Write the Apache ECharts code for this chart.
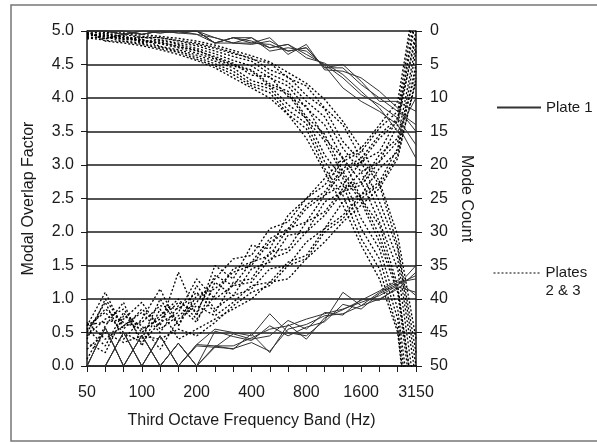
<!DOCTYPE html>
<html>
<head>
<meta charset="utf-8">
<script src="https://cdn.jsdelivr.net/npm/echarts@6/dist/echarts.min.js"></script>
<style>
  html, body { margin: 0; padding: 0; background: #fff; }
  #chart { width: 597px; height: 443px; }
</style>
</head>
<body>
<div id="chart"></div>
<script>
// third octave band centres (Hz)
var bands = ['50', '63', '80', '100', '125', '160', '200', '250', '315', '400',
  '500', '630', '800', '1000', '1250', '1600', '2000', '2500', '3150'];

// Plate 1 - modal overlap factor (left axis)
var p1OverlapA = [0, 0.57, 0, 0.46, 0, 0.34, 0, 0.30, 0.30, 0.42, 0.55, 0.60, 0.70, 0.78, 0.85, 0.95, 1.05, 1.20, 1.50];
var p1OverlapB = [0, 0, 0.50, 0, 0.45, 0, 0.32, 0.55, 0.50, 0.45, 0.78, 0.50, 0.45, 0.68, 1.10, 0.90, 1.00, 1.15, 1.40];
var p1OverlapC = [0, 0.57, 0, 0.46, 0, 0.34, 0, 0.28, 0.26, 0.35, 0.22, 0.55, 0.62, 0.75, 0.78, 0.90, 1.10, 1.25, 1.30];
var p1OverlapD = [0, 0, 0.50, 0, 0.45, 0, 0.30, 0.28, 0.48, 0.40, 0.45, 0.68, 0.55, 0.80, 0.76, 1.00, 0.98, 1.18, 1.10];
var p1OverlapE = [0, 0.57, 0, 0.46, 0, 0.34, 0, 0.52, 0.44, 0.38, 0.60, 0.45, 0.58, 0.66, 0.92, 0.85, 1.08, 1.22, 1.35];
var p1OverlapF = [0, 0, 0.50, 0, 0.45, 0, 0.32, 0.30, 0.25, 0.48, 0.20, 0.62, 0.40, 0.72, 0.84, 0.98, 1.12, 1.28, 1.05];

// Plate 1 - mode count (right axis, inverted)
var p1CountA = [0, 0, 0.5, 0, 0, 0, 0, 1.8, 1.0, 1.8, 2.0, 3.0, 2.5, 5.5, 5.5, 8.0, 10.0, 12.0, 14.0];
var p1CountB = [0, 0, 0, 0.5, 0, 0.3, 0, 1.8, 1.8, 1.0, 2.5, 2.0, 3.5, 5.0, 7.0, 9.5, 11.0, 13.0, 17.0];
var p1CountC = [0, 0, 0.5, 0, 0.3, 0, 0.5, 1.0, 1.8, 1.8, 1.0, 3.5, 2.0, 5.8, 6.0, 7.0, 9.0, 11.5, 15.0];
var p1CountD = [0, 0, 0, 0.5, 0, 0, 0, 1.8, 1.0, 1.0, 3.0, 2.5, 3.0, 5.2, 8.5, 10.5, 12.0, 14.0, 19.0];
var p1CountE = [0, 0, 0.5, 0, 0.3, 0, 0, 1.0, 1.8, 2.0, 1.5, 3.0, 2.5, 5.5, 5.0, 7.5, 10.5, 10.5, 12.0];
var p1CountF = [0, 0, 0, 0.5, 0, 0.3, 0.5, 1.8, 1.0, 1.5, 2.5, 2.0, 4.0, 4.8, 6.5, 9.0, 11.5, 15.0, 10.0];

// Plates 2 & 3 - modal overlap factor (left axis)
var p23Overlap1 = [0.60, 1.10, 0.55, 0.85, 0.60, 1.40, 0.75, 1.50, 1.30, 1.80, 1.75, 2.25, 2.50, 2.80, 3.10, 3.25, 3.60, 3.95, 5.60];
var p23Overlap2 = [0.10, 0.60, 0.95, 0.30, 0.85, 0.40, 0.55, 0.70, 0.85, 1.00, 1.25, 1.30, 1.60, 1.85, 2.15, 2.40, 2.65, 3.10, 4.30];
var p23Overlap3 = [0.65, 0.40, 0.60, 0.80, 0.50, 0.90, 0.65, 1.25, 1.05, 1.45, 1.55, 1.95, 2.00, 2.45, 2.60, 2.90, 3.05, 3.60, 5.00];
var p23Overlap4 = [0.50, 0.95, 0.40, 0.70, 1.15, 0.60, 1.20, 0.85, 1.05, 1.15, 1.45, 1.50, 1.85, 2.05, 2.45, 2.55, 2.95, 3.20, 4.50];
var p23Overlap5 = [0.45, 0.70, 0.85, 0.50, 0.75, 1.00, 0.70, 1.05, 1.45, 1.55, 1.90, 2.05, 2.40, 2.60, 2.95, 3.10, 3.45, 3.70, 5.30];
var p23Overlap6 = [0.60, 0.80, 0.50, 0.35, 0.65, 0.80, 1.30, 1.00, 1.20, 1.25, 1.60, 1.70, 2.00, 2.25, 2.60, 2.70, 3.05, 3.35, 4.40];
var p23Overlap7 = [0.35, 0.20, 0.75, 0.60, 0.25, 0.70, 0.90, 0.75, 0.95, 1.20, 1.25, 1.55, 1.65, 2.05, 2.25, 2.55, 2.75, 3.25, 4.70];
var p23Overlap8 = [0.55, 0.85, 0.65, 0.55, 0.70, 0.95, 0.80, 1.35, 1.20, 1.55, 1.65, 2.05, 2.15, 2.55, 2.70, 3.05, 3.20, 3.70, 4.90];
var p23Overlap9 = [0.62, 0.65, 0.70, 0.95, 0.55, 0.75, 0.95, 1.30, 1.60, 1.65, 2.05, 2.15, 2.50, 2.70, 3.05, 3.20, 3.55, 3.80, 5.50];
var p23Overlap10 = [0.40, 1.00, 0.60, 0.65, 0.90, 0.85, 1.10, 0.80, 1.25, 1.30, 1.70, 1.75, 2.15, 2.30, 2.65, 2.75, 3.15, 3.40, 4.80];
var p23Overlap11 = [0.25, 0.50, 0.35, 0.45, 0.40, 0.55, 0.45, 0.65, 0.90, 1.10, 1.20, 1.50, 1.60, 2.00, 2.20, 2.50, 2.70, 3.15, 4.25];
var p23Overlap12 = [0.55, 0.30, 0.80, 0.40, 1.00, 0.60, 1.05, 1.15, 1.40, 1.50, 1.85, 2.00, 2.35, 2.55, 2.90, 3.05, 3.40, 3.65, 5.20];

// Plates 2 & 3 - mode count (right axis, inverted)
var p23Count1 = [0.0, 0.5, 0.4, 0.8, 1.0, 1.4, 1.8, 2.4, 3.2, 4.2, 4.8, 7.0, 8.2, 11.5, 14.0, 19.0, 23.0, 32.0, 48];
var p23Count2 = [1.0, 1.4, 1.6, 2.0, 2.6, 3.2, 4.2, 5.2, 6.5, 8.2, 9.2, 12.4, 14.6, 20.5, 24.5, 31.0, 35.5, 44.5, 68];
var p23Count3 = [0.5, 0.9, 1.2, 1.3, 1.8, 2.2, 3.0, 3.8, 4.8, 6.6, 6.8, 9.8, 11.2, 16.0, 19.0, 25.0, 29.0, 38.0, 58];
var p23Count4 = [0.3, 0.7, 0.7, 1.6, 1.3, 1.8, 2.2, 3.0, 3.8, 4.5, 6.4, 7.6, 10.5, 12.8, 17.5, 21.0, 27.0, 34.0, 52];
var p23Count5 = [0.8, 0.3, 1.0, 1.2, 2.3, 2.8, 3.6, 4.5, 5.5, 7.4, 8.2, 11.0, 13.0, 18.5, 22.0, 28.0, 32.5, 41.5, 63];
var p23Count6 = [0.2, 1.2, 0.5, 1.0, 1.0, 1.5, 2.0, 2.6, 3.4, 4.0, 5.8, 6.8, 9.6, 11.6, 16.5, 19.5, 25.5, 32.5, 50];
var p23Count7 = [0.6, 0.6, 1.3, 1.4, 1.9, 2.5, 3.3, 4.2, 5.2, 6.0, 8.2, 9.4, 13.2, 16.4, 21.5, 25.5, 31.5, 39.0, 60];
var p23Count8 = [0.4, 0.9, 1.5, 1.8, 2.4, 3.0, 3.9, 4.9, 6.0, 7.9, 8.6, 11.8, 13.8, 19.5, 23.0, 29.5, 34.0, 43.0, 66];
var p23Count9 = [1.2, 0.7, 1.1, 0.9, 1.4, 2.0, 2.6, 3.4, 4.4, 5.2, 7.0, 8.2, 11.5, 14.0, 19.0, 22.5, 28.5, 35.5, 55];
var p23Count10 = [0.0, 1.5, 1.8, 2.2, 2.8, 3.5, 4.4, 5.5, 7.0, 8.5, 10.0, 12.5, 16.0, 21.0, 26.0, 32.0, 37.0, 45.0, 70];
var p23Count11 = [0.1, 0.2, 0.3, 0.5, 0.8, 1.1, 1.5, 2.1, 2.9, 3.7, 4.6, 6.2, 7.8, 10.2, 13.5, 17.5, 22.5, 30.5, 46];
var p23Count12 = [0.9, 1.1, 0.8, 1.7, 1.6, 2.4, 2.8, 4.0, 5.0, 5.8, 7.9, 9.0, 12.8, 15.4, 21.0, 25.0, 30.5, 38.5, 57];

var plate1Overlap = [p1OverlapA, p1OverlapB, p1OverlapC, p1OverlapD, p1OverlapE, p1OverlapF];
var plate1Count = [p1CountA, p1CountB, p1CountC, p1CountD, p1CountE, p1CountF];
var plates23Overlap = [p23Overlap1, p23Overlap2, p23Overlap3, p23Overlap4, p23Overlap5, p23Overlap6,
  p23Overlap7, p23Overlap8, p23Overlap9, p23Overlap10, p23Overlap11, p23Overlap12];
var plates23Count = [p23Count1, p23Count2, p23Count3, p23Count4, p23Count5, p23Count6,
  p23Count7, p23Count8, p23Count9, p23Count10, p23Count11, p23Count12];

var FONT = 'Liberation Sans, Arial, sans-serif';
var INK = '#1a1a1a';

function makeLine(name, axis, data, dotted) {
  return {
    name: name,
    type: 'line',
    yAxisIndex: axis,
    data: data,
    symbol: 'none',
    silent: true,
    clip: true,
    itemStyle: { color: '#111' },
    lineStyle: {
      color: dotted ? '#000' : '#333',
      width: dotted ? 1.3 : 1,
      type: dotted ? [2, 2] : 'solid'
    }
  };
}

var series = [];
plates23Overlap.forEach(function (d) { series.push(makeLine('Plates 2 & 3', 0, d, true)); });
plates23Count.forEach(function (d) { series.push(makeLine('Plates 2 & 3', 1, d, true)); });
plate1Overlap.forEach(function (d) { series.push(makeLine('Plate 1', 0, d, false)); });
plate1Count.forEach(function (d) { series.push(makeLine('Plate 1', 1, d, false)); });

var myChart = echarts.init(document.getElementById('chart'));
var option = {
  animation: false,
  textStyle: { fontFamily: FONT },
  grid: { left: 87, right: 181, top: 31, bottom: 77 },
  graphic: [{
    type: 'rect',
    z: -10,
    shape: { x: 11, y: 5, width: 610, height: 436 },
    style: { fill: 'none', stroke: '#777', lineWidth: 1.5 }
  }],
  legend: [{
    data: ['Plate 1'],
    left: 496, top: 100,
    itemWidth: 44, itemHeight: 14,
    padding: 0,
    selectedMode: false,
    itemStyle: { opacity: 0 },
    textStyle: { fontSize: 15, color: INK, fontFamily: FONT }
  }, {
    data: ['Plates 2 & 3'],
    left: 493, top: 246,
    itemWidth: 47, itemHeight: 14,
    padding: 0,
    selectedMode: false,
    itemStyle: { opacity: 0 },
    lineStyle: { width: 1 },
    // blank first line keeps "Plates" level with the dotted sample
    formatter: function () { return ' \nPlates\n2 & 3'; },
    textStyle: { fontSize: 15, color: INK, fontFamily: FONT, lineHeight: 18, align: 'left' }
  }],
  xAxis: {
    type: 'category',
    data: bands,
    boundaryGap: false,
    name: 'Third Octave Frequency Band (Hz)',
    nameLocation: 'middle',
    nameGap: 47,
    nameTextStyle: { fontSize: 16, color: INK },
    axisLine: { lineStyle: { color: INK, width: 1.5 } },
    axisTick: { interval: 0, length: 6, lineStyle: { color: INK } },
    axisLabel: { interval: 2, fontSize: 16, color: INK, margin: 19 },
    splitLine: { show: false }
  },
  yAxis: [{
    type: 'value',
    min: 0, max: 5, interval: 0.5,
    name: 'Modal Overlap Factor',
    nameLocation: 'middle',
    nameGap: 50,
    nameTextStyle: { fontSize: 16, color: INK },
    axisLine: { show: true, lineStyle: { color: INK, width: 1.5 } },
    axisTick: { show: true, length: 6, lineStyle: { color: INK } },
    axisLabel: {
      fontSize: 16, color: INK, margin: 13,
      formatter: function (v) { return v.toFixed(1); }
    },
    splitLine: { show: true, lineStyle: { color: INK, width: 1.5 } }
  }, {
    type: 'value',
    position: 'right',
    inverse: true,
    min: 0, max: 50, interval: 5,
    name: 'Mode Count',
    nameLocation: 'middle',
    nameRotate: -90,
    nameGap: 42,
    nameTextStyle: { fontSize: 16, color: INK },
    axisLine: { show: true, lineStyle: { color: INK, width: 1.5 } },
    axisTick: { show: true, length: 6, lineStyle: { color: INK } },
    axisLabel: { fontSize: 16, color: INK, margin: 14 },
    splitLine: { show: false }
  }],
  series: series
};

myChart.setOption(option);
</script>
</body>
</html>
